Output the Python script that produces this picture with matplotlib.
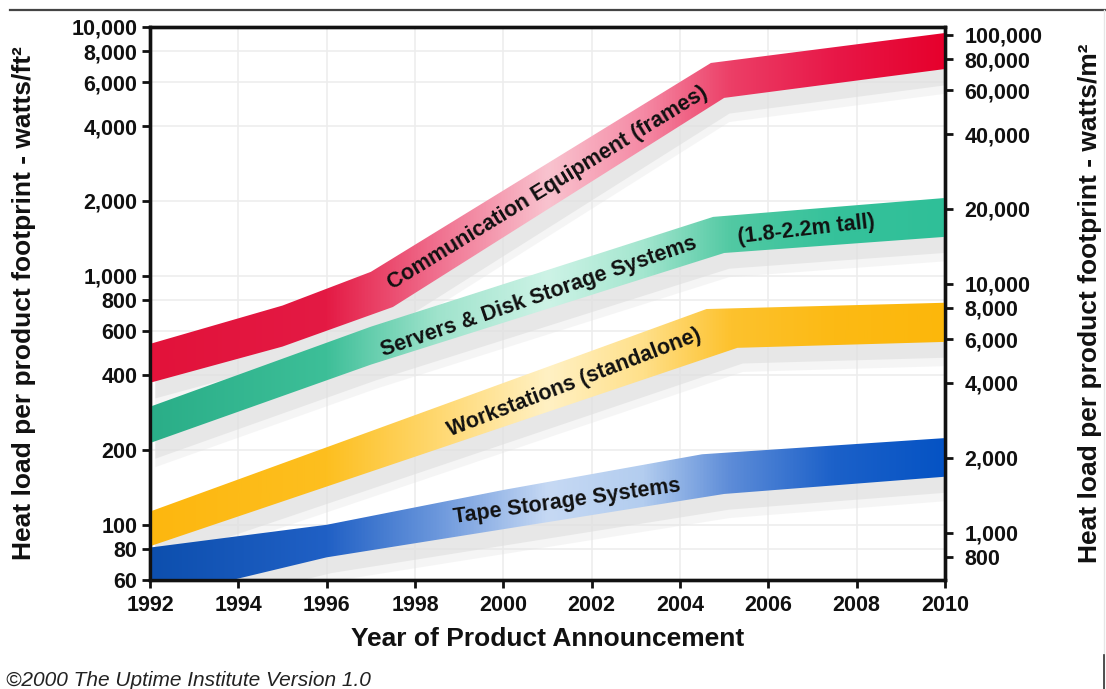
import numpy as np
import matplotlib
matplotlib.use('Agg')
import matplotlib.pyplot as plt
from matplotlib import font_manager
from matplotlib.colors import LinearSegmentedColormap
from matplotlib.lines import Line2D
from matplotlib.patches import Polygon
from matplotlib.ticker import FixedLocator, FuncFormatter, NullLocator

M2_PER_FT2 = 10.764

year_ticks = [1992, 1994, 1996, 1998, 2000, 2002, 2004, 2006, 2008, 2010]
ft2_ticks = [60, 80, 100, 200, 400, 600, 800, 1000, 2000, 4000, 6000, 8000, 10000]
m2_ticks = [800, 1000, 2000, 4000, 6000, 8000, 10000, 20000, 40000, 60000, 80000, 100000]

# band edges, watts/ft^2
comm_top_years = [1992, 1995, 1997, 2004.7, 2010]
comm_top = [533, 760, 1038, 7170, 9460]
comm_bot_years = [1992, 1995, 1997.5, 2005.0, 2010]
comm_bot = [372, 520, 750, 5190, 6780]

serv_top_years = [1992, 1997, 2004.75, 2010]
serv_top = [298, 625, 1726, 2056]
serv_bot_years = [1992, 1997, 2005.0, 2010]
serv_bot = [213, 440, 1236, 1435]

work_top_years = [1992, 2004.6, 2010]
work_top = [113, 736, 780]
work_bot_years = [1992, 2005.3, 2010]
work_bot = [82, 514, 543]

tape_top_years = [1992, 1996, 2000, 2004.5, 2010]
tape_top = [81, 100, 138, 192, 223]
tape_bot_years = [1992, 1996, 2000, 2005.0, 2010]
tape_bot = [50, 74, 96, 133, 156]

comm_colors = ['#e2123a', '#e41a44', '#f0708f', '#f9c3cf', '#f58aa5', '#ec3f67', '#e81848', '#e6002c']
serv_colors = ['#2aae88', '#3dbf98', '#9fe3cc', '#cdf3e6', '#a4e6cf', '#52c9a3', '#36c29b', '#2fbf98']
work_colors = ['#fdb70f', '#fdbf1f', '#ffd870', '#fff1c4', '#ffe08a', '#fdc22e', '#fcba14', '#fcb70b']
tape_colors = ['#0d4fae', '#2060c5', '#6b97dc', '#c6d9f4', '#b3cdef', '#5d8cd8', '#1c61c9', '#0553c4']
stop_pos = [0.0, 0.22, 0.36, 0.5, 0.62, 0.73, 0.86, 1.0]

names = {f.name for f in font_manager.fontManager.ttflist}
narrow = 'Liberation Sans Narrow' if 'Liberation Sans Narrow' in names else 'Liberation Sans'
plt.rcParams['font.family'] = ['Liberation Sans', 'DejaVu Sans']

fig = plt.figure(figsize=(11.06, 6.89), dpi=100)
ax = fig.add_axes([150 / 1106, 1 - 580 / 689, 795 / 1106, 553 / 689])
ax.set_yscale('log')


def draw_band(top_x, top_y, bot_x, bot_y, colors, z):
    verts = list(zip(top_x, top_y)) + list(zip(bot_x[::-1], bot_y[::-1]))
    # soft grey drop shadow beneath the band
    for k, a in ((0.80, 0.3), (0.865, 0.65)):
        sv = [(x + 0.12, y * k) for x, y in verts]
        ax.add_patch(Polygon(sv, closed=True, facecolor='#e0e0e0', edgecolor='none',
                             alpha=a, zorder=1))
    poly = Polygon(verts, closed=True, facecolor='none', edgecolor='none', zorder=z)
    ax.add_patch(poly)
    cmap = LinearSegmentedColormap.from_list('band', list(zip(stop_pos, colors)))
    grad = np.linspace(0, 1, 512).reshape(1, -1)
    im = ax.imshow(grad, extent=[1992, 2010, 40, 12000], aspect='auto', cmap=cmap,
                   origin='lower', interpolation='bilinear', zorder=z)
    im.set_clip_path(poly)


draw_band(comm_top_years, comm_top, comm_bot_years, comm_bot, comm_colors, 3)
draw_band(serv_top_years, serv_top, serv_bot_years, serv_bot, serv_colors, 3)
draw_band(work_top_years, work_top, work_bot_years, work_bot, work_colors, 3)
draw_band(tape_top_years, tape_top, tape_bot_years, tape_bot, tape_colors, 3)

lbl = dict(fontsize=15.5, fontweight='bold', color='#111111', ha='center', va='center',
           rotation_mode='anchor', zorder=5)
ax.text(2001.0, 2254, 'Communication Equipment (frames)', rotation=31.5, **lbl)
ax.text(2000.8, 824, 'Servers & Disk Storage Systems', rotation=19, **lbl)
ax.text(2006.85, 1531, '(1.8-2.2m tall)', rotation=6.5, **lbl)
ax.text(2001.6, 372, 'Workstations (standalone)', rotation=21, **lbl)
ax.text(2001.45, 124, 'Tape Storage Systems', rotation=8, **lbl)

ax.set_xlim(1992, 2010)
ax.set_ylim(60, 10000)

for yr in year_ticks:
    ax.axvline(yr, color='#ededed', lw=1.2, zorder=0)
for v in ft2_ticks:
    ax.axhline(v, color='#ededed', lw=1.2, zorder=0)

comma = FuncFormatter(lambda v, p: f'{v:,.0f}')
ax.xaxis.set_major_locator(FixedLocator(year_ticks))
ax.yaxis.set_major_locator(FixedLocator(ft2_ticks))
ax.yaxis.set_minor_locator(NullLocator())
ax.yaxis.set_major_formatter(comma)
ax.tick_params(axis='both', direction='out', length=6, width=2, colors='#111111')
ax.tick_params(axis='y', labelsize=15.5, pad=3)
ax.tick_params(axis='x', labelsize=15.5, pad=5)
for t in ax.get_yticklabels():
    t.set_fontweight('bold')
for t in ax.get_xticklabels():
    t.set_fontweight('bold')
    t.set_family([narrow, 'Liberation Sans'])
for s in ax.spines.values():
    s.set_linewidth(2.4)
    s.set_color('#111111')

ax2 = ax.twinx()
ax2.set_yscale('log')
ax2.set_ylim(60 * M2_PER_FT2, 10000 * M2_PER_FT2)
ax2.yaxis.set_major_locator(FixedLocator(m2_ticks))
ax2.yaxis.set_minor_locator(NullLocator())
ax2.yaxis.set_major_formatter(comma)
ax2.tick_params(axis='y', direction='out', length=6, width=2, labelsize=15.5, pad=8,
                colors='#111111')
for t in ax2.get_yticklabels():
    t.set_fontweight('bold')
for s in ax2.spines.values():
    s.set_linewidth(2.4)
    s.set_color('#111111')

ax.set_ylabel('Heat load per product footprint - watts/ft²', fontsize=19,
              fontweight='bold', color='#111111')
ax.yaxis.set_label_coords(-0.143, 0.5)
ax2.set_ylabel('Heat load per product footprint - watts/m²', fontsize=19,
               fontweight='bold', color='#111111', rotation=90)
ax2.yaxis.set_label_coords(1.167, 0.5)
ax.set_xlabel('Year of Product Announcement', fontsize=19, fontweight='bold',
              family=[narrow, 'Liberation Sans'], color='#111111')
ax.xaxis.set_label_coords(0.5, -0.085)

fig.text(0.005, 1 - 680 / 689, '©2000 The Uptime Institute Version 1.0', fontsize=15,
         style='italic', color='#222222', va='center', ha='left')

fig.add_artist(Line2D([10 / 1106, 1], [1 - 10 / 689] * 2, color='#444444', lw=1.6))
fig.add_artist(Line2D([1104 / 1106] * 2, [0, 1 - 10 / 689], color='#e6e6e6', lw=1.0))
fig.add_artist(Line2D([1104 / 1106] * 2, [0, 1 - 655 / 689], color='#333333', lw=1.2))

fig.savefig('out.png', dpi=100)
